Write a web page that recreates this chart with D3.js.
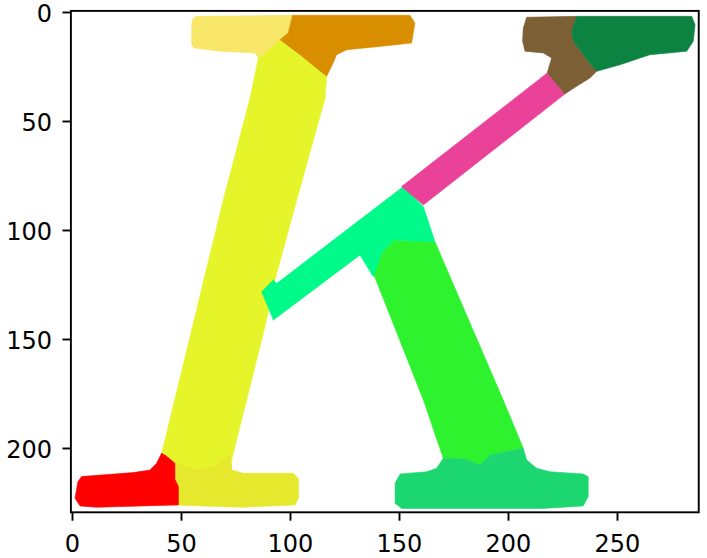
<!DOCTYPE html>
<html>
<head>
<meta charset="utf-8">
<script src="https://cdn.jsdelivr.net/npm/d3@7"></script>
<style>
  body { margin: 0; background: #fff; }
  text { font-family: "DejaVu Sans", sans-serif; }
</style>
</head>
<body>
<svg width="707" height="558"></svg>
<script>
// image size (pixels of the segmented picture)
var imgWidth = 288, imgHeight = 230;

var xTicks = [0, 50, 100, 150, 200, 250];
var yTicks = [0, 50, 100, 150, 200];

// segments of the letter, outlines in image pixel coords (x, y)
var stem = [[85.5,21.1],[95.4,12.7],[104.6,19.6],[116.8,29.5],[116.1,39.4],[103.1,86.2],[93.1,122.9],[88.5,144.4],[73.2,205.5],[73.2,212],[41,212],[40.4,205.5],[69.4,86.2],[81.7,39.4]];
var topLeftSerif = [[55.5,3],[57.2,2],[101.2,1.5],[99.2,9.6],[95.4,12.7],[85.5,21.1],[83.9,18.8],[67.9,18],[56,16.5],[54.9,15],[54.9,5.5]];
var topRightSerif = [[101.2,1.5],[155,1.5],[157.3,5],[155.8,14.2],[141.3,15.8],[126,17.3],[121.4,19.6],[119.1,24.9],[116.8,29.5],[104.6,19.6],[95.4,12.7],[99.2,9.6]];
var bottomSerif = [[41.1,202.4],[49,207.5],[57.2,210.1],[65,208.5],[72.5,203.2],[73.2,210.1],[78.6,211.6],[101.5,211.6],[103.9,214],[103.9,223],[102.3,226.1],[77.8,227.2],[46,226.1],[46,207]];
var bottomLeftFoot = [[38.8,207],[41.1,202.4],[43,203.5],[47.2,207],[47.2,214.3],[48.8,217.7],[48.8,226.1],[11.3,227.2],[3.7,226.6],[1.4,223.1],[2.7,215.5],[4.4,213.1],[28.1,211.3],[35.8,210.1]];
var leg = [[147.4,104.6],[166.5,105.4],[197.8,178],[207,200.1],[191.7,203.2],[187.2,207.8],[180,205],[170.3,204.7],[161.2,178],[138.2,119.9],[142,110.7]];
var legSerif = [[170.3,204.7],[180,205],[187.2,207.8],[191.7,203.2],[207,200.1],[208.6,205.5],[213.1,209.3],[219.3,210.9],[234.5,211.9],[236.8,213.2],[236.8,222.3],[234.5,226.6],[216.2,227.7],[151.2,227.7],[148.2,225.4],[148.2,216.2],[150.5,211.9],[162.7,210.9],[167.3,209.3]];
var joint = [[87,128.3],[92.4,122.9],[93.9,124.5],[152,80.1],[161.2,89.3],[166.5,105.4],[147.4,104.6],[142,110.7],[138.2,121.4],[132.1,111.5],[92.4,141.3]];
var arm = [[151.2,80.1],[218,28],[226.1,37.6],[161.2,88.5]];
var armTopLeft = [[207,7.3],[208.6,2.4],[231.5,2],[229.2,8.9],[230,13.4],[236.8,22.6],[240.7,27.2],[237.6,30.3],[231.5,34.1],[226.1,37.6],[218,28],[220,21.1],[216.2,18.8],[207.8,18],[206.7,13.4]];
var armTopRight = [[231.5,2],[284.3,2],[285.8,5.8],[285,13.4],[282,18],[265.1,19.6],[251.4,24.2],[240.7,27.2],[236.8,22.6],[230,13.4],[229.2,8.9]];

var segments = [stem, topLeftSerif, topRightSerif, bottomSerif, bottomLeftFoot, leg, legSerif, joint, arm, armTopLeft, armTopRight];
var segColors = ["#e6f42a", "#f7e668", "#d98e03", "#e6e82f", "#fe0000", "#2ef22f", "#1ed670", "#02fa8a", "#ea4399", "#7c5f34", "#0b8343"];

var svg = d3.select("svg"),
    margin = {top: 10.9, left: 70.9},
    s = 2.18,
    w = imgWidth * s,
    h = imgHeight * s;

// soft edges like the upscaled picture
svg.append("defs").append("filter").attr("id", "soft")
    .append("feGaussianBlur").attr("stdDeviation", 0.6);

var g = svg.append("g").attr("transform", "translate(" + margin.left + "," + margin.top + ")");

var x = d3.scaleLinear().domain([-0.5, imgWidth - 0.5]).range([0, w]);
var y = d3.scaleLinear().domain([-0.5, imgHeight - 0.5]).range([0, h]);

var line = d3.line()
    .x(function(d) { return x(d[0]); })
    .y(function(d) { return y(d[1]); })
    .curve(d3.curveLinearClosed);

g.append("g").attr("filter", "url(#soft)")
    .selectAll("path.seg")
    .data(segments)
    .enter()
    .append("path")
    .attr("class", "seg")
    .attr("fill", function(d, i) { return segColors[i]; })
    .attr("stroke", function(d, i) { return segColors[i]; })
    .attr("stroke-width", 0.6)
    .attr("stroke-linejoin", "round")
    .attr("d", line);

// frame
g.append("rect")
    .attr("width", w).attr("height", h)
    .attr("fill", "none").attr("stroke", "#000").attr("stroke-width", 1.9);

var xAxis = g.append("g").attr("transform", "translate(0," + h + ")")
    .call(d3.axisBottom(x).tickValues(xTicks).tickSize(8.4).tickPadding(8.4));
var yAxis = g.append("g")
    .call(d3.axisLeft(y).tickValues(yTicks).tickSize(8.4).tickPadding(10.5));

[xAxis, yAxis].forEach(function(a) {
  a.select(".domain").remove();
  a.selectAll("line").attr("stroke", "#000").attr("stroke-width", 1.9);
  a.selectAll("text").attr("fill", "#000").style("font-size", "24px").style("font-family", "DejaVu Sans");
});
xAxis.selectAll("text").attr("y", 16.8).attr("dy", "0.94em");
yAxis.selectAll("text").attr("dy", "0.40em");
</script>
</body>
</html>
